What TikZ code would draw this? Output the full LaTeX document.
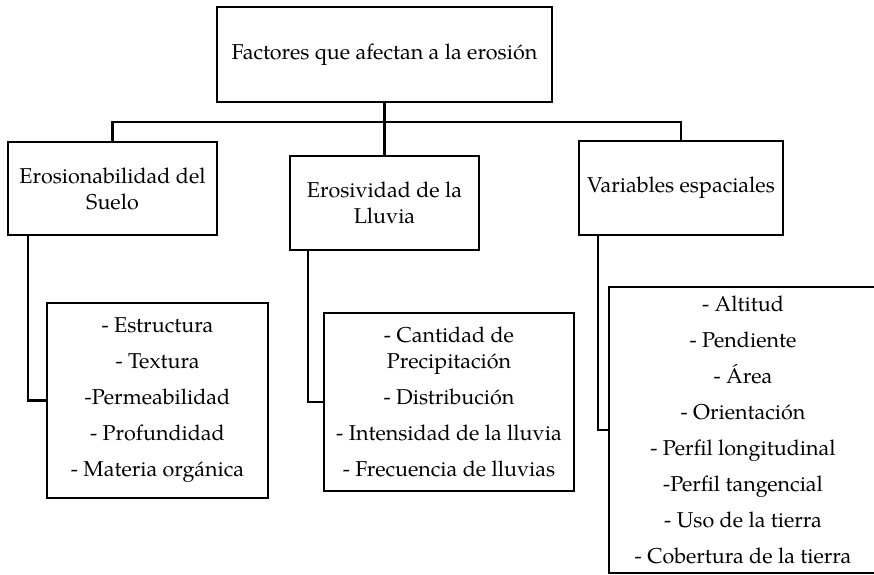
\documentclass[tikz,border=0pt]{standalone}
\usepackage{fontspec}
\setmainfont{TeX Gyre Pagella}
\tikzset{
    box/.style={draw, rectangle, line width=2.5pt, fill=white, align=center, inner sep=0pt, font=\fontsize{21.5}{26}\selectfont},
    link/.style={line width=2.5pt}
}

\begin{document}
\begin{tikzpicture}[x=1pt, y=-1pt]
    \useasboundingbox (0,0) rectangle (874,574);
    \clip (0,0) rectangle (874,574);
    % main boxes
    \node (fac) [box, minimum width=335pt, minimum height=95pt] at (384.5,54.5) {Factores que afectan a la erosión};
    \node (sue) [box, minimum width=209pt, minimum height=93pt] at (112.5,188.5) {Erosionabilidad del\\Suelo};
    \node (llu) [box, minimum width=189pt, minimum height=94pt] at (384.5,203) {Erosividad de la\\Lluvia};
    \node (esp) [box, minimum width=204pt, minimum height=94pt] at (681,188) {Variables espaciales};
    % lists
    \node (lsue) [box, minimum width=221pt, minimum height=195pt] at (157.5,400.5) {- Estructura\\[10pt] - Textura\\[10pt] -Permeabilidad\\[10pt] - Profundidad\\[10pt] - Materia orgánica};
    \node (lllu) [box, minimum width=250pt, minimum height=178pt] at (449,402) {- Cantidad de\\Precipitación\\[10pt] - Distribución\\[10pt] - Intensidad de la lluvia\\[10pt] - Frecuencia de lluvias};
    \node (lesp) [box, minimum width=268pt, minimum height=286pt] at (743,430) {- Altitud\\[10pt] - Pendiente\\[10pt] - Área\\[10pt] - Orientación\\[10pt] - Perfil longitudinal\\[10pt] -Perfil tangencial\\[10pt] - Uso de la tierra\\[10pt] - Cobertura de la tierra};
    % connectors
    \coordinate (bus) at (384.5,122);
    \draw [link] (fac) -- (llu);
    \draw [link] (sue.north) |- (bus) -| (esp.north);
    \draw [link] ([xshift=21pt]sue.south west) |- (lsue.west);
    \draw [link] ([xshift=19pt]llu.south west) |- (lllu.west);
    \draw [link] ([xshift=20pt]esp.south west) |- (lesp.west);
\end{tikzpicture}
\end{document}
